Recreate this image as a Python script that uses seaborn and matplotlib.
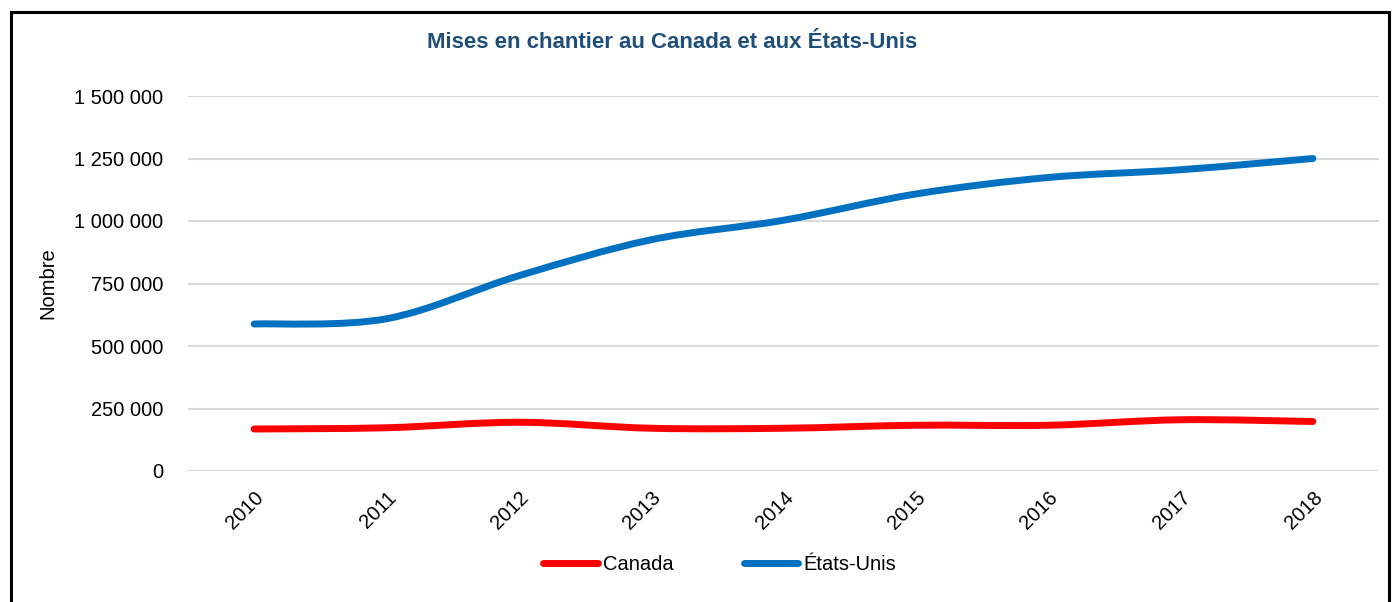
import pandas as pd
import matplotlib
matplotlib.use('Agg')
import matplotlib.pyplot as plt
import seaborn as sns
from matplotlib.path import Path
from matplotlib.patches import PathPatch, Rectangle
from matplotlib.lines import Line2D
from matplotlib.ticker import FuncFormatter

# Data
years = ['2010', '2011', '2012', '2013', '2014', '2015', '2016', '2017', '2018']
canada = [168000, 173000, 195000, 171000, 171000, 183000, 183000, 205000, 198000]
etats_unis = [588000, 609000, 781000, 925000, 1003000, 1108000, 1174000, 1205000, 1250000]
series_names = ['Canada', 'États-Unis']
colors = {'Canada': '#FF0000', 'États-Unis': '#0070C0'}
y_ticks = [0, 250000, 500000, 750000, 1000000, 1250000, 1500000]

df = pd.DataFrame({
    'Année': years * 2,
    'Nombre': canada + etats_unis,
    'Série': ['Canada'] * len(years) + ['États-Unis'] * len(years),
})

sns.set_style('white')
font = ['Liberation Sans Narrow', 'Liberation Sans', 'DejaVu Sans']
plt.rcParams['font.family'] = font
plt.rcParams['text.color'] = 'black'

fig = plt.figure(figsize=(13.92, 6.02), dpi=100)
ax = fig.add_axes([188 / 1392, 1 - 471 / 602, (1379 - 188) / 1392, (471 - 96) / 602])

sns.lineplot(data=df, x='Année', y='Nombre', hue='Série', hue_order=series_names,
             palette=colors, linewidth=5, sort=False, legend=False, ax=ax)


# Excel-like smoothed lines: replace straight segments with Bezier curves
def smooth_path(pts):
    verts = [tuple(pts[0])]
    codes = [Path.MOVETO]
    n = len(pts)
    for i in range(n - 1):
        p0 = pts[i - 1] if i > 0 else pts[i]
        p1 = pts[i]
        p2 = pts[i + 1]
        p3 = pts[i + 2] if i + 2 < n else pts[i + 1]
        c1 = p1 + (p2 - p0) / 6.0
        c2 = p2 - (p3 - p1) / 6.0
        verts += [tuple(c1), tuple(c2), tuple(p2)]
        codes += [Path.CURVE4] * 3
    return Path(verts, codes)


for line in list(ax.lines):
    pts = line.get_xydata()
    patch = PathPatch(smooth_path(pts), facecolor='none', edgecolor=line.get_color(),
                      linewidth=5, capstyle='round', joinstyle='round', zorder=3)
    ax.add_patch(patch)
    line.remove()

ax.set_xlim(-0.5, len(years) - 0.5)
ax.set_ylim(0, 1500000)
ax.set_yticks(y_ticks)
ax.yaxis.set_major_formatter(FuncFormatter(lambda v, p: f'{int(v):,}'.replace(',', ' ')))
ax.grid(axis='y', color='#D9D9D9', linewidth=1.5)
ax.grid(axis='x', visible=False)
for s in ax.spines.values():
    s.set_visible(False)
ax.tick_params(axis='both', length=0, labelsize=14.5, colors='black')
ax.tick_params(axis='y', pad=18)
plt.setp(ax.get_xticklabels(), rotation=45, ha='right', rotation_mode='anchor')
ax.tick_params(axis='x', pad=12)
ax.set_xlabel('')
ax.set_ylabel('Nombre', fontsize=14.5, labelpad=12, color='black')

fig.text(672 / 1392, 1 - 42 / 602, 'Mises en chantier au Canada et aux États-Unis',
         ha='center', va='center', fontsize=16, fontweight='bold', color='#1F4E79')

handles = [Line2D([], [], color=colors[n], linewidth=5, solid_capstyle='round') for n in series_names]
fig.legend(handles, series_names, loc='center', bbox_to_anchor=(0.517, 0.062), ncol=2,
           frameon=False, fontsize=14.5, labelcolor='black', handlelength=2.7,
           handletextpad=0.25, columnspacing=3.5)

# Black frame around the chart area
fig.add_artist(Rectangle((11 / 1392, -0.05), 1378 / 1392, 1.05 - 12 / 602,
                         transform=fig.transFigure, fill=False, edgecolor='black', linewidth=2.2))

fig.savefig('out.png', dpi=100)
